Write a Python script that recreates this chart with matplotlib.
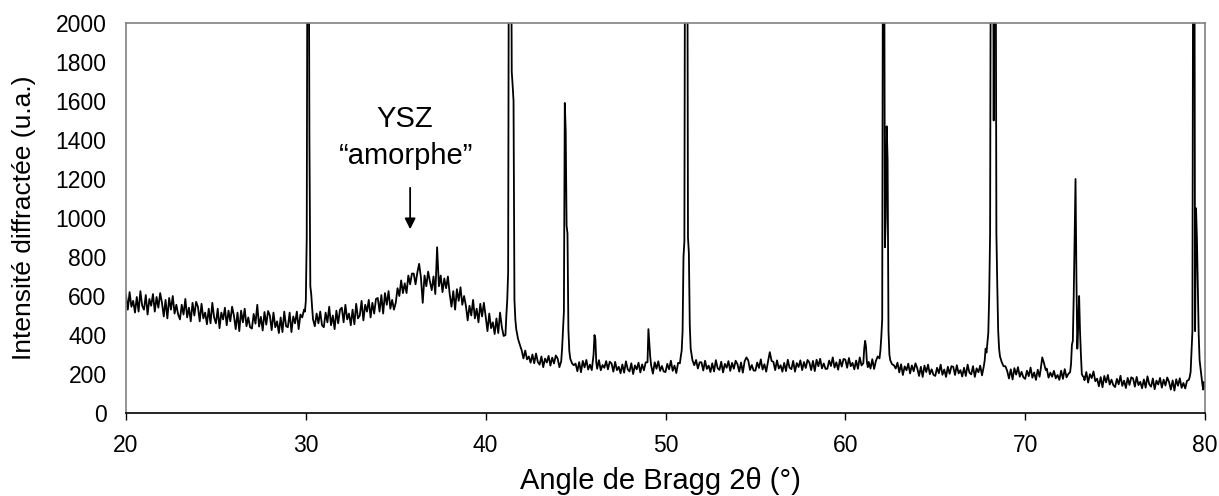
import numpy as np
import matplotlib
matplotlib.use("Agg")
import matplotlib.pyplot as plt

plt.rcParams['font.family'] = ['Liberation Sans', 'DejaVu Sans']

# fond continu, un point tous les 0.1 deg (None = pris par un pic)
bg_start = 20.0
bg_step = 0.1
bg_rows = [
    [605, 530, 620, 545, 575, 515, 595, 520, 625, 550],   # 20
    [530, 605, 505, 585, 550, 610, 520, 595, 540, 615],   # 21
    [565, 495, 580, 485, 590, 530, 600, 510, 555, 505],   # 22
    [480, 555, 505, 585, 490, 540, 470, 565, 500, 570],   # 23
    [545, 470, 560, 485, 515, 455, 535, 460, 565, 490],   # 24
    [460, 535, 435, 515, 480, 540, 450, 525, 470, 545],   # 25
    [500, 430, 515, 420, 525, 465, 535, 445, 490, 440],   # 26
    [433, 508, 458, 555, 443, 493, 423, 518, 453, 523],   # 27
    [500, 425, 515, 440, 470, 410, 490, 415, 520, 445],   # 28
    [440, 515, 415, 495, 460, 520, 430, 505, 490, 530],   # 29
    [None, None, None, None, None, 445, 510, 460, 520, 450],   # 30
    [440, 515, 465, 545, 450, 500, 430, 525, 460, 530],   # 31
    [540, 465, 555, 480, 510, 450, 530, 455, 560, 485],   # 32
    [500, 575, 475, 555, 520, 580, 490, 565, 510, 585],   # 33
    [590, 520, 605, 510, 615, 555, 625, 535, 580, 530],   # 34
    [565, 640, 600, 680, 615, 665, 615, 705, 660, 715],   # 35
    [715, 660, 720, 765, 695, 565, 705, 650, 725, 675],   # 36
    [630, 700, 610, 850, 650, 705, 620, 690, 640, 700],   # 37
    [610, 545, 625, 530, 635, 575, 645, 555, 600, 550],   # 38
    [475, 550, 500, 580, 485, 535, 465, 560, 495, 565],   # 39
    [495, 420, 510, 435, 465, 405, 485, 410, 515, 440],   # 40
    [395, None, None, None, None, None, None, None, None, None],   # 41
    [322, 280, 320, 275, 290, 258, 300, 255, 305, 262],   # 42
    [248, 290, 235, 279, 259, 293, 243, 284, 254, 295],   # 43
    [280, 235, None, None, None, None, None, None, None, 245],   # 44
    [253, 214, 261, 209, 267, 234, 272, 223, 248, 220],   # 45
    [None, None, 227, 271, 219, 246, 232, 266, 224, 263],   # 46
    [254, 212, 262, 220, 237, 204, 249, 207, 265, 224],   # 47
    [213, 255, 200, 244, 224, 258, 208, 249, 219, 260],   # 48
    [None, None, None, 202, 260, 227, 265, 216, 241, 213],   # 49
    [210, 252, 224, 268, 216, 243, 205, 257, None, None],   # 50
    [None, None, None, None, None, None, None, 272, 228, 260],   # 51
    [260, 218, 268, 226, 243, 210, 255, 213, 271, 230],   # 52
    [221, 263, 208, 252, 232, 266, 216, 257, 227, 268],   # 53
    [251, 212, 259, 207, 265, 285, 270, 221, 246, 218],   # 54
    [217, 259, 231, 275, 223, 250, 212, 264, 312, 267],   # 55
    [262, 220, 270, 228, 245, 212, 257, 215, 273, 232],   # 56
    [225, 267, 212, 256, 236, 270, 220, 261, 231, 272],   # 57
    [259, 220, 267, 215, 273, 240, 278, 229, 254, 226],   # 58
    [227, 269, 241, 285, 233, 260, 222, 274, 238, 277],   # 59
    [274, 232, 282, 240, 257, 224, 269, 227, 285, 244],   # 60
    [None, None, None, 262, 228, 276, 226, 267, 290, None],   # 61
    [None, None, None, None, None, None, None, 245, 228, 258],   # 62
    [208, 250, 195, 239, 219, 253, 203, 244, 214, 255],   # 63
    [229, 190, 237, 185, 243, 210, 248, 199, 224, 196],   # 64
    [190, 232, 204, 248, 196, 223, 185, 237, 201, 240],   # 65
    [237, 195, 245, 203, 220, 187, 232, 190, 248, 207],   # 66
    [198, 240, 185, 229, 209, 243, 193, None, None, None],   # 67
    [None, None, None, None, None, None, None, None, None, 240],   # 68
    [216, 177, 224, 172, 230, 197, 235, 186, 211, 183],   # 69
    [175, 217, 189, 233, 181, 208, 170, 222, 186, None],   # 70
    [None, None, 228, 181, 207, 186, 216, 178, 195, 170],   # 71
    [217, 175, 225, 183, 200, None, None, None, None, None],   # 72
    [None, None, None, 168, 210, 156, 199, 179, 213, 163],   # 73
    [176, 137, 184, 132, 190, 157, 195, 146, 171, 143],   # 74
    [133, 175, 147, 191, 139, 166, 128, 180, 144, 183],   # 75
    [177, 135, 185, 143, 160, 127, 172, 130, 188, 147],   # 76
    [135, 177, 122, 166, 146, 180, 130, 171, 141, 182],   # 77
    [159, 120, 167, 115, 173, 140, 178, 129, 154, 126],   # 78
    [165, None, None, None, None, None, None, None, None, None],   # 79
]

# pics (x en deg, y en u.a.)
p30_x = [29.95, 30.0, 30.05, 30.1, 30.15, 30.2, 30.25, 30.3, 30.35, 30.4]
p30_y = [520, 575, 900, 3000, 2900, 1400, 650, 610, 540, 480]
p41_x = [41.1, 41.15, 41.2, 41.25, 41.3, 41.35, 41.4, 41.45, 41.5, 41.55, 41.6, 41.65, 41.7, 41.8, 41.9]
p41_y = [400, 500, 580, 720, 3000, 3400, 3000, 1750, 1680, 1600, 580, 480, 430, 380, 350]
p44_x = [44.2, 44.25, 44.3, 44.35, 44.4, 44.45, 44.5, 44.55, 44.6, 44.65, 44.7, 44.8]
p44_y = [265, 330, 420, 520, 1590, 1450, 960, 920, 430, 320, 280, 255]
p46_x = [46.0, 46.05, 46.1, 46.15]
p46_y = [300, 400, 380, 260]
p49_x = [49.0, 49.05, 49.1, 49.15, 49.2]
p49_y = [260, 430, 360, 290, 245]
p51_x = [50.8, 50.85, 50.9, 50.95, 51.0, 51.05, 51.1, 51.2, 51.25, 51.3, 51.35, 51.4, 51.5, 51.6]
p51_y = [255, 290, 320, 420, 800, 880, 3200, 3300, 900, 820, 450, 330, 270, 245]
p61_x = [61.0, 61.05, 61.1, 61.15, 61.2, 61.25]
p61_y = [255, 330, 370, 340, 260, 235]
p62_x = [61.9, 61.95, 62.0, 62.05, 62.1, 62.15, 62.2, 62.25, 62.3, 62.35, 62.4, 62.45, 62.5, 62.6]
p62_y = [280, 320, 390, 480, 3000, 3100, 850, 1000, 1470, 1300, 420, 300, 270, 250]
p68_x = [67.7, 67.75, 67.8, 67.85, 67.9, 67.95, 68.0, 68.05, 68.1, 68.2, 68.25, 68.3,
         68.35, 68.4, 68.45, 68.5, 68.55, 68.6, 68.7, 68.8]
p68_y = [240, 270, 330, 310, 360, 410, 600, 920, 3000, 3200, 1500, 3100,
         3000, 920, 650, 420, 330, 290, 260, 240]
p71_x = [70.85, 70.9, 70.95, 71.0, 71.05, 71.1, 71.15]
p71_y = [215, 250, 285, 270, 255, 235, 220]
p73_x = [72.5, 72.55, 72.6, 72.65, 72.7, 72.75, 72.8, 72.85, 72.9, 72.95, 73.0, 73.05,
         73.1, 73.15, 73.2, 73.25]
p73_y = [210, 250, 350, 370, 600, 900, 1200, 700, 330, 450, 600, 420,
         300, 200, 190, 185]
p79_x = [79.1, 79.15, 79.2, 79.25, 79.3, 79.35, 79.4, 79.45, 79.5, 79.55, 79.6, 79.65,
         79.7, 79.75, 79.8, 79.85, 79.9, 79.95, 80.0]
p79_y = [170, 185, 210, 320, 420, 3000, 3200, 420, 1050, 900, 650, 400,
         270, 230, 190, 150, 120, 160, 130]

x_ticks = [20, 30, 40, 50, 60, 70, 80]
y_ticks = [0, 200, 400, 600, 800, 1000, 1200, 1400, 1600, 1800, 2000]

# assemblage du diffractogramme
xs, ys = [], []
for i, row in enumerate(bg_rows):
    for j, v in enumerate(row):
        if v is not None:
            xs.append(round(bg_start + i + j * bg_step, 2))
            ys.append(v)
peaks = [(p30_x, p30_y), (p41_x, p41_y), (p44_x, p44_y), (p46_x, p46_y),
         (p49_x, p49_y), (p51_x, p51_y), (p61_x, p61_y), (p62_x, p62_y),
         (p68_x, p68_y), (p71_x, p71_y), (p73_x, p73_y), (p79_x, p79_y)]
for px, py in peaks:
    xs += px
    ys += py
xs = np.array(xs)
ys = np.array(ys)
order = np.argsort(xs, kind='stable')
xs, ys = xs[order], ys[order]

fig = plt.figure(figsize=(12.19, 4.96), dpi=100)
ax = fig.add_axes([126/1219, 83/496, 1079/1219, 390/496])

ax.plot(xs, ys, color='black', lw=1.3)

ax.set_xlim(20, 80)
ax.set_ylim(0, 2000)
ax.set_xticks(x_ticks)
ax.set_yticks(y_ticks)
ax.tick_params(axis='x', length=5, width=1, direction='out', labelsize=16.5, pad=10)
ax.tick_params(axis='y', length=0, labelsize=16.5, pad=14)

for s in ['top', 'right', 'left']:
    ax.spines[s].set_color('#808080')
    ax.spines[s].set_linewidth(1.2)
ax.spines['bottom'].set_color('black')
ax.spines['bottom'].set_linewidth(1.2)

fig.text(660/1219, 1 - 481/496, 'Angle de Bragg 2θ (°)', ha='center', va='center', fontsize=21)
fig.text(24/1219, 1 - 218/496, 'Intensité diffractée (u.a.)', ha='center', va='center',
         rotation=90, fontsize=19)

ax.text(35.5, 1508, 'YSZ', ha='center', va='center', fontsize=21)
ax.text(35.55, 1320, '“amorphe”', ha='center', va='center', fontsize=21)
ax.annotate('', xy=(35.8, 928), xytext=(35.8, 1169),
            arrowprops=dict(arrowstyle='-|>', color='black', lw=1.3, mutation_scale=16))

fig.savefig('out.png', dpi=100)
